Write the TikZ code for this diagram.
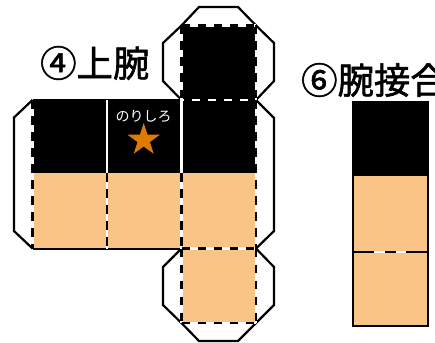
\documentclass[tikz,border=0pt]{standalone}
\usepackage{fontspec}
\usetikzlibrary{shapes.geometric}
\newfontfamily\cjk{Noto Sans CJK JP}
\newfontfamily\cjkheavy[FakeBold=1.6]{Noto Sans CJK JP}
\definecolor{skin}{HTML}{FAC487}
\definecolor{starorange}{HTML}{DF7A00}
\tikzset{
  cutline/.style={draw=black,line width=2.2pt,line join=miter},
  edgeline/.style={draw=black,line width=2pt},
  foldbase/.style={draw=white,line width=2.5pt},
  foldblack/.style={draw=black,line width=2.8pt,dash pattern=on 8.5pt off 7.5pt},
  foldwhite/.style={draw=white,line width=2.5pt,dash pattern=on 8pt off 8pt,dash phase=5.5pt},
  title/.style={font=\cjkheavy\fontsize{36.4}{36.4}\selectfont,text=black,inner sep=0pt,anchor=west}
}
\begin{document}
\begin{tikzpicture}[x=1pt,y=-1pt]
    \useasboundingbox (0,0) rectangle (435,342);
    % corners of the net
    \coordinate (A) at (32.5,100);
    \coordinate (B) at (107,100);
    \coordinate (C) at (181.5,100);
    \coordinate (D) at (256,100);
    \coordinate (E) at (32.5,248.5);
    \coordinate (F) at (107,248.5);
    \coordinate (G) at (181.5,248.5);
    \coordinate (H) at (256,248.5);
    \coordinate (T) at (181.5,25.5);
    \coordinate (U) at (256,25.5);
    \coordinate (V) at (181.5,323);
    \coordinate (W) at (256,323);

    % faces
    \fill [skin] (32.5,173) rectangle (H);
    \fill [skin] (G) rectangle (W);
    \fill [black] (A) rectangle (256,173);
    \fill [black] (T) rectangle (D);

    % glue tabs
    \draw [cutline] (A) -- (14,117.5) -- (14,231) -- (E);
    \draw [cutline] (T) -- (163,43) -- (163,81) -- (C);
    \draw [cutline] (T) -- (199,7) -- (238,7) -- (U);
    \draw [cutline] (U) -- (274,43) -- (274,81) -- (D);
    \draw [cutline] (D) -- (274,118) -- (274,231) -- (H);
    \draw [cutline] (G) -- (163,267) -- (163,305) -- (V);
    \draw [cutline] (H) -- (274,267) -- (274,305) -- (W);
    \draw [cutline] (V) -- (199,341) -- (238,341) -- (W);

    % outer edges
    \draw [edgeline] (A) -- (C);
    \draw [edgeline] (E) -- (G);

    % fold lines, white under black
    \draw [foldbase] (A) -- (E);
    \draw [foldbase] (B) -- (F);
    \draw [foldbase] (C) -- (G);
    \draw [foldbase] (D) -- (H);
    \draw [foldbase] (T) -- (U);
    \draw [foldbase] (T) -- (C);
    \draw [foldbase] (U) -- (D);
    \draw [foldbase] (G) -- (H);
    \draw [foldbase] (G) -- (V);
    \draw [foldbase] (H) -- (W);
    \draw [foldbase] (V) -- (W);
    \draw [foldblack] (A) -- (E);
    \draw [foldblack] (107,173) -- (F);
    \draw [foldblack] (181.5,173) -- (G);
    \draw [foldblack] (D) -- (H);
    \draw [foldblack] (T) -- (U);
    \draw [foldblack] (T) -- (C);
    \draw [foldblack] (U) -- (D);
    \draw [foldblack] (G) -- (H);
    \draw [foldblack] (G) -- (V);
    \draw [foldblack] (H) -- (W);
    \draw [foldblack] (V) -- (W);
    \fill [black] (C) rectangle (D);
    \draw [foldwhite] (C) -- (D);

    % labels
    \node [title] (upperarm) at (40,63) {④上腕};
    \node [font=\cjk\fontsize{14}{14}\selectfont,text=white,inner sep=0pt] (gluetext) at (143.5,116) {のりしろ};
    \node [star,star points=5,star point ratio=2.6,fill=starorange,minimum size=34pt,inner sep=0pt] (mark) at (143.7,140) {};

    % joint strip
    \coordinate (P) at (353,102);
    \coordinate (Q) at (427.5,102);
    \coordinate (R) at (427.5,326);
    \coordinate (S) at (353,326);
    \coordinate (M) at (353,252);
    \coordinate (N) at (427.5,252);
    \fill [skin] (P) rectangle (R);
    \fill [black] (P) rectangle (427.5,176);
    \draw [edgeline] (P) -- (Q) -- (R) -- (S) -- cycle;
    \draw [edgeline] (M) -- (N);
    \draw [draw=white,line width=2.3pt] (374,252) -- (384.5,252);
    \draw [draw=white,line width=2.3pt] (395.5,252) -- (406,252);
    \node [title] (joint) at (301,80) {⑥腕接合};
\end{tikzpicture}
\end{document}
